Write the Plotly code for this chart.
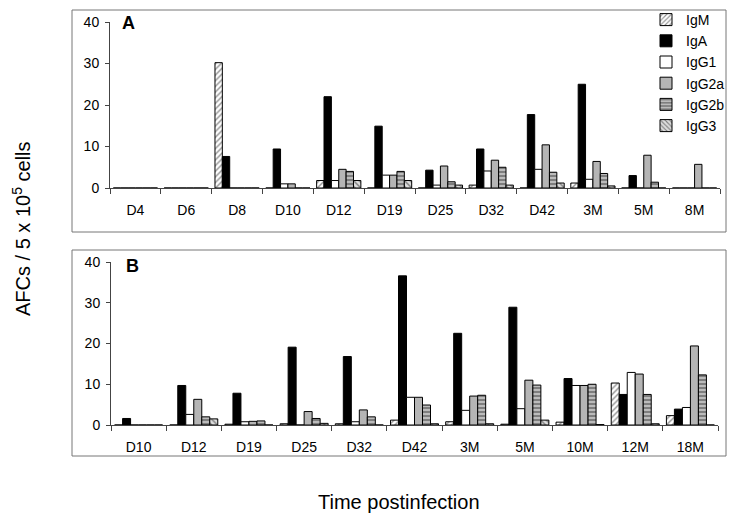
import plotly.graph_objects as go

isotypes = ["IgM", "IgA", "IgG1", "IgG2a", "IgG2b", "IgG3"]

cats_a = ["D4", "D6", "D8", "D10", "D12", "D19", "D25", "D32", "D42", "3M", "5M", "8M"]
vals_a = {
    "IgM":   [0, 0, 30.2, 0,   1.8, 0,    0,   0.7, 0,    1.2, 0,   0],
    "IgA":   [0, 0, 7.6,  9.4, 22.0, 14.9, 4.3, 9.4, 17.7, 25.0, 3.0, 0],
    "IgG1":  [0, 0, 0,    1.0, 1.8, 3.1,  0.7, 4.1, 4.5,  2.1, 0,   0],
    "IgG2a": [0, 0, 0,    1.0, 4.5, 3.1,  5.3, 6.7, 10.4, 6.4, 7.9, 5.7],
    "IgG2b": [0, 0, 0,    0,   4.0, 4.0,  1.5, 5.0, 3.8,  3.5, 1.4, 0],
    "IgG3":  [0, 0, 0,    0,   1.8, 1.8,  0.7, 0.7, 1.2,  0.5, 0,   0],
}

cats_b = ["D10", "D12", "D19", "D25", "D32", "D42", "3M", "5M", "10M", "12M", "18M"]
vals_b = {
    "IgM":   [0,   0,   0.2, 0.3,  0.3,  1.2,  0.8,  0.2,  0.7,  10.3, 2.3],
    "IgA":   [1.6, 9.7, 7.8, 19.1, 16.8, 36.6, 22.5, 28.9, 11.4, 7.5,  3.9],
    "IgG1":  [0,   2.6, 0.8, 0,    0.8,  6.8,  3.6,  4.0,  9.7,  12.9, 4.3],
    "IgG2a": [0,   6.3, 0.9, 3.3,  3.7,  6.8,  7.1,  11.0, 9.7,  12.5, 19.4],
    "IgG2b": [0,   2.0, 1.0, 1.6,  2.0,  4.9,  7.3,  9.8,  10.0, 7.5,  12.3],
    "IgG3":  [0,   1.5, 0,   0.4,  0,    0.3,  0.3,  1.2,  0.1,  0.3,  0],
}

styles = {
    "IgM":   dict(color="white", pattern=dict(shape="/", fgcolor="#222", bgcolor="white", size=4, solidity=0.35)),
    "IgA":   dict(color="black"),
    "IgG1":  dict(color="white"),
    "IgG2a": dict(color="#b5b5b5"),
    "IgG2b": dict(color="#bbbbbb", pattern=dict(shape="-", fgcolor="#333", bgcolor="#bbbbbb", size=4, solidity=0.45)),
    "IgG3":  dict(color="white", pattern=dict(shape="\\", fgcolor="#222", bgcolor="#dddddd", size=4, solidity=0.35)),
}

fig = go.Figure()
for iso in isotypes:
    st = styles[iso]
    mk = dict(color=st["color"], line=dict(color="black", width=1))
    if "pattern" in st:
        mk["pattern"] = st["pattern"]
    fig.add_trace(go.Bar(x=cats_a, y=vals_a[iso], name=iso, marker=mk,
                         xaxis="x", yaxis="y"))
    fig.add_trace(go.Bar(x=cats_b, y=vals_b[iso], name=iso, marker=mk,
                         xaxis="x2", yaxis="y2", showlegend=False))

# page body adds an 8px offset; figure is sized to fill the rest of the window
OFF = 8
W, H = 738 - OFF, 523 - OFF
def px(x):
    return (x - OFF) / W
def py(y):
    return 1 - (y - OFF) / H

tickfont = dict(family="Liberation Sans, Arial, sans-serif", size=14, color="black")
xcommon = dict(type="category", showline=True, linecolor="#444", linewidth=1,
               ticks="outside", tickson="boundaries", ticklen=5, tickcolor="#444",
               tickfont=tickfont, showgrid=False, zeroline=False, ticklabelstandoff=9,
               automargin=False)
ycommon = dict(range=[0, 40], dtick=10, showline=True, linecolor="#444", linewidth=1,
               ticks="outside", ticklen=4, tickcolor="#444", tickfont=tickfont,
               showgrid=False, zeroline=False, ticklabelstandoff=3, automargin=False)

fig.update_layout(
    width=W, height=H,
    margin=dict(l=0, r=0, t=0, b=0, autoexpand=False),
    paper_bgcolor="white", plot_bgcolor="white",
    barmode="group", bargap=0.13, bargroupgap=0,
    font=dict(family="Liberation Sans, Arial, sans-serif", color="black"),
    xaxis=dict(domain=[px(110), px(720)], anchor="y", **xcommon),
    yaxis=dict(domain=[py(188), py(22)], anchor="x", **ycommon),
    xaxis2=dict(domain=[px(111), px(718)], anchor="y2", **xcommon),
    yaxis2=dict(domain=[py(425), py(262)], anchor="x2", **ycommon),
    legend=dict(x=px(646), y=py(4), xanchor="left", yanchor="top",
                font=dict(family="Liberation Sans, Arial, sans-serif", size=14, color="black"),
                bgcolor="rgba(0,0,0,0)", itemwidth=30, tracegroupgap=0, traceorder="normal"),
    showlegend=True,
    shapes=[
        dict(type="rect", xref="paper", yref="paper", x0=px(72), x1=px(726), y0=py(232), y1=py(10),
             line=dict(color="#777", width=1)),
        dict(type="rect", xref="paper", yref="paper", x0=px(72), x1=px(726), y0=py(456), y1=py(250),
             line=dict(color="#777", width=1)),
    ],
    annotations=[
        dict(text="<b>A</b>", xref="paper", yref="paper", x=px(120), y=py(23), xanchor="left",
             yanchor="middle", showarrow=False, font=dict(size=18)),
        dict(text="<b>B</b>", xref="paper", yref="paper", x=px(124), y=py(266), xanchor="left",
             yanchor="middle", showarrow=False, font=dict(size=18)),
        dict(text="AFCs / 5 x 10<sup>5</sup> cells", xref="paper", yref="paper", x=px(21), y=py(229),
             xanchor="center", yanchor="middle", textangle=-90, showarrow=False, font=dict(size=20)),
        dict(text="Time postinfection", xref="paper", yref="paper", x=px(399), y=py(502),
             xanchor="center", yanchor="middle", showarrow=False, font=dict(size=20)),
    ],
)

fig.write_html("out.html")
